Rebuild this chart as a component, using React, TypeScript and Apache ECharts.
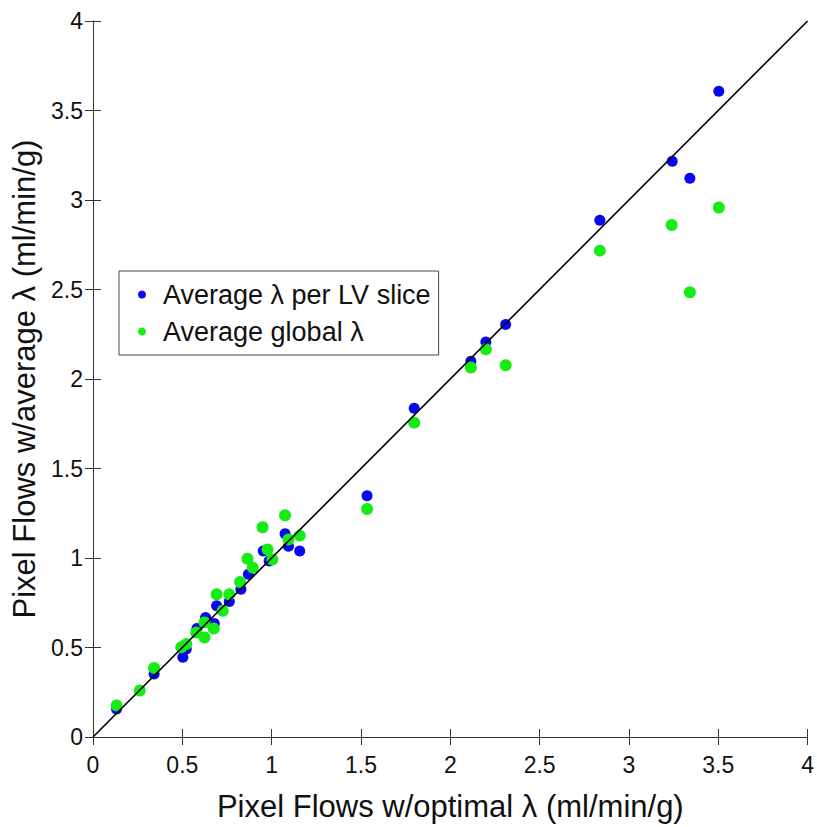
import React, { useEffect, useRef } from "react";
import * as echarts from "echarts";

const blueName = "Average λ per LV slice";
const greenName = "Average global λ";

const blueX = [0.132, 0.342, 0.503, 0.522, 0.582, 0.630, 0.679, 0.692, 0.763, 0.828, 0.870, 0.953, 0.986, 1.075, 1.094, 1.157, 1.534, 1.798, 2.115, 2.199, 2.310, 2.837, 3.242, 3.341, 3.503];
const blueY = [0.157, 0.352, 0.445, 0.491, 0.606, 0.668, 0.634, 0.733, 0.757, 0.825, 0.909, 1.039, 0.983, 1.135, 1.066, 1.039, 1.348, 1.836, 2.099, 2.207, 2.305, 2.887, 3.217, 3.121, 3.607];

const greenX = [0.132, 0.262, 0.342, 0.494, 0.522, 0.578, 0.624, 0.624, 0.676, 0.692, 0.726, 0.763, 0.823, 0.865, 0.894, 0.949, 0.977, 1.004, 1.075, 1.094, 1.157, 1.534, 1.798, 2.115, 2.199, 2.310, 2.837, 3.239, 3.341, 3.503];
const greenY = [0.176, 0.260, 0.386, 0.501, 0.519, 0.584, 0.640, 0.556, 0.606, 0.797, 0.705, 0.797, 0.866, 0.996, 0.946, 1.172, 1.048, 0.992, 1.239, 1.103, 1.125, 1.274, 1.756, 2.064, 2.166, 2.077, 2.717, 2.860, 2.485, 2.958];

const lineX = [0, 4];
const lineY = [0, 4];

const axisMin = 0;
const axisMax = 4;
const tickStep = 0.5;

const xTitle = "Pixel Flows w/optimal λ (ml/min/g)";
const yTitle = "Pixel Flows w/average λ (ml/min/g)";

const FONT = "'Liberation Sans', Arial, Helvetica, sans-serif";

function zip(xs: number[], ys: number[]) {
  return xs.map((x, i) => [x, ys[i]]);
}

export default function App() {
  const ref = useRef<HTMLDivElement>(null);
  useEffect(() => {
    if (!ref.current) return;
    const chart = echarts.init(ref.current, null, { renderer: "svg" });
    const axisLine = { show: true, lineStyle: { color: "#333", width: 1 } };
    const axisTick = { show: true, inside: true, length: 8, lineStyle: { color: "#333", width: 1 } };
    const fmt = (v: number) => String(v);
    chart.setOption({
      animation: false,
      backgroundColor: "#fff",
      grid: { left: 93, right: 6, top: 21, bottom: 87, containLabel: false },
      legend: {
        data: [blueName, greenName],
        orient: "vertical",
        left: 119,
        top: 271,
        padding: [10, 8, 10, 19],
        itemGap: 10,
        itemWidth: 8,
        itemHeight: 8,
        icon: "circle",
        backgroundColor: "#fff",
        borderColor: "#444",
        borderWidth: 1,
        borderRadius: 0,
        textStyle: { fontFamily: FONT, fontSize: 27, color: "#111", padding: [0, 0, 0, 12] },
      },
      xAxis: [
        {
          type: "value",
          min: axisMin,
          max: axisMax,
          interval: tickStep,
          position: "bottom",
          axisLine,
          axisTick,
          splitLine: { show: false },
          axisLabel: { fontFamily: FONT, fontSize: 23, color: "#111", margin: 16, formatter: fmt },
          name: xTitle,
          nameLocation: "middle",
          nameGap: 54,
          nameTextStyle: { fontFamily: FONT, fontSize: 31, color: "#111" },
        },
        {
          type: "value",
          min: axisMin,
          max: axisMax,
          interval: tickStep,
          position: "top",
          axisLine,
          axisTick,
          splitLine: { show: false },
          axisLabel: { show: false },
        },
      ],
      yAxis: [
        {
          type: "value",
          min: axisMin,
          max: axisMax,
          interval: tickStep,
          position: "left",
          axisLine,
          axisTick,
          splitLine: { show: false },
          axisLabel: { fontFamily: FONT, fontSize: 23, color: "#111", margin: 10, formatter: fmt },
          name: yTitle,
          nameLocation: "middle",
          nameGap: 46,
          nameTextStyle: { fontFamily: FONT, fontSize: 31, color: "#111" },
        },
        {
          type: "value",
          min: axisMin,
          max: axisMax,
          interval: tickStep,
          position: "right",
          axisLine,
          axisTick,
          splitLine: { show: false },
          axisLabel: { show: false },
        },
      ],
      series: [
        {
          name: blueName,
          type: "scatter",
          data: zip(blueX, blueY),
          symbol: "circle",
          symbolSize: 11,
          itemStyle: { color: "#0808f0", opacity: 1 },
        },
        {
          name: greenName,
          type: "scatter",
          data: zip(greenX, greenY),
          symbol: "circle",
          symbolSize: 12,
          itemStyle: { color: "#14ec14", opacity: 1 },
        },
        {
          name: "identity",
          type: "line",
          data: zip(lineX, lineY),
          symbol: "none",
          lineStyle: { color: "#000", width: 1.6 },
          silent: true,
        },
      ],
    });
    return () => chart.dispose();
  }, []);
  return (
    <div
      ref={ref}
      style={{ position: "fixed", left: 0, top: 0, width: 817, height: 827, background: "#fff" }}
    />
  );
}
